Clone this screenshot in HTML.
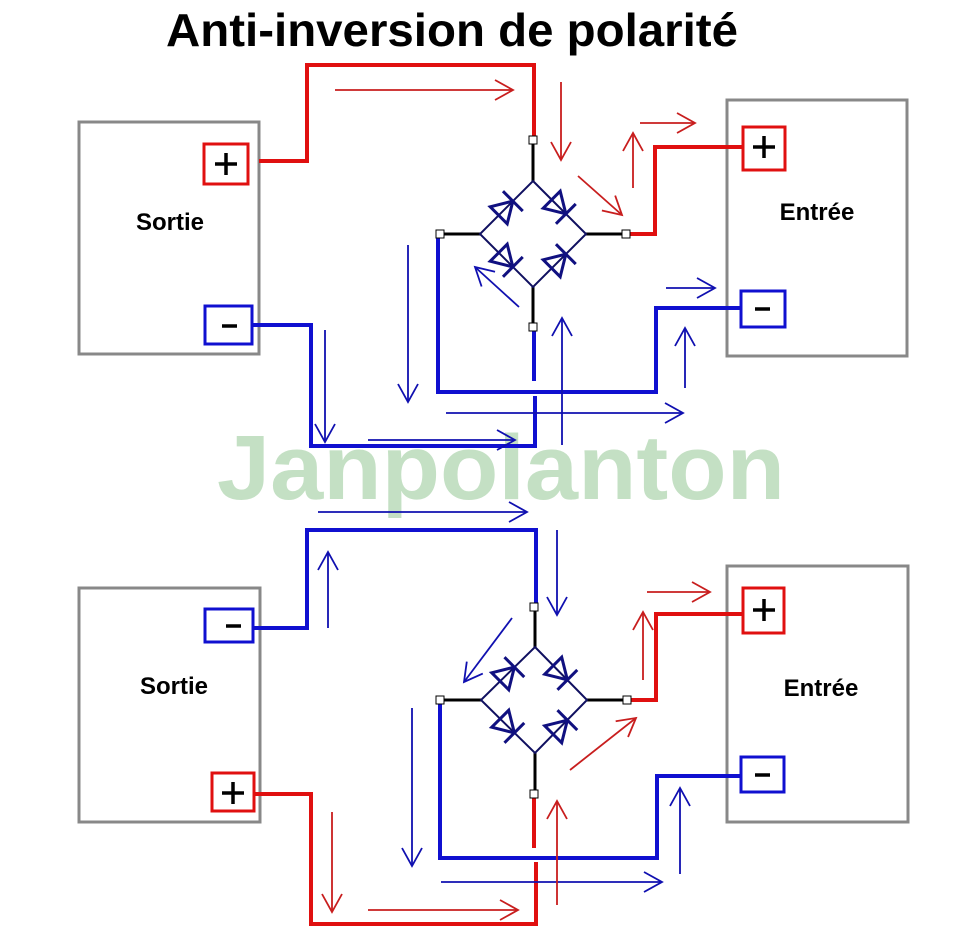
<!DOCTYPE html>
<html><head><meta charset="utf-8"><style>
html,body{margin:0;padding:0;background:#fff;}
svg{display:block;}
text{font-family:"Liberation Sans",Arial,sans-serif;font-weight:bold;}
</style></head><body>
<svg width="953" height="951" viewBox="0 0 953 951" xmlns="http://www.w3.org/2000/svg">
<defs>
<marker id="ar" markerUnits="userSpaceOnUse" markerWidth="28" markerHeight="28" refX="22" refY="14" orient="auto">
<path d="M4,4 L22,14 L4,24" fill="none" stroke="#c81e1e" stroke-width="1.8"/></marker>
<marker id="ab" markerUnits="userSpaceOnUse" markerWidth="28" markerHeight="28" refX="22" refY="14" orient="auto">
<path d="M4,4 L22,14 L4,24" fill="none" stroke="#1010b0" stroke-width="1.8"/></marker>
<g id="dio"><polygon points="-11,-12 -11,12 9,0" fill="none" stroke="#101080" stroke-width="3"/><line x1="9" y1="-14" x2="9" y2="14" stroke="#101080" stroke-width="3"/></g>
<g id="plus"><line x1="-11" y1="0" x2="11" y2="0" stroke="#000" stroke-width="3.5"/><line x1="0" y1="-11" x2="0" y2="11" stroke="#000" stroke-width="3.5"/></g>
</defs>

<text x="452" y="46" font-size="46" text-anchor="middle" textLength="572" lengthAdjust="spacingAndGlyphs">Anti-inversion de polarité</text>
<text x="501" y="499" font-size="92" text-anchor="middle" fill="#c4e0c4" textLength="568" lengthAdjust="spacingAndGlyphs">Janpolanton</text>

<!-- ===== TOP ===== -->
<rect x="79" y="122" width="180" height="232" fill="none" stroke="#888" stroke-width="3"/>
<rect x="727" y="100" width="180" height="256" fill="none" stroke="#888" stroke-width="3"/>
<text x="170" y="230" font-size="24" text-anchor="middle">Sortie</text>
<text x="817" y="220" font-size="24" text-anchor="middle">Entrée</text>

<polyline points="259,161 307,161 307,65 534,65 534,140" fill="none" stroke="#e01010" stroke-width="4"/>
<polyline points="626,234 655,234 655,147 743,147" fill="none" stroke="#e01010" stroke-width="4"/>
<polyline points="252,325 311,325 311,446 535,446 535,396" fill="none" stroke="#1010d0" stroke-width="4"/>
<line x1="534" y1="327" x2="534" y2="381" stroke="#1010d0" stroke-width="4"/>
<polyline points="438,234 438,392 656,392 656,308 741,308" fill="none" stroke="#1010d0" stroke-width="4"/>

<g stroke="#000" stroke-width="3"><line x1="533" y1="140" x2="533" y2="181"/><line x1="440" y1="234" x2="480" y2="234"/><line x1="586" y1="234" x2="626" y2="234"/><line x1="533" y1="287" x2="533" y2="327"/></g>
<polygon points="533,181 586,234 533,287 480,234" fill="none" stroke="#101060" stroke-width="2"/>
<use href="#dio" transform="translate(506.5,207.5) rotate(-45)"/>
<use href="#dio" transform="translate(559.5,207.5) rotate(45)"/>
<use href="#dio" transform="translate(506.5,260.5) rotate(45)"/>
<use href="#dio" transform="translate(559.5,260.5) rotate(-45)"/>
<g fill="#fff" stroke="#000" stroke-width="1"><rect x="529" y="136" width="8" height="8"/><rect x="436" y="230" width="8" height="8"/><rect x="622" y="230" width="8" height="8"/><rect x="529" y="323" width="8" height="8"/></g>

<rect x="204" y="144" width="44" height="40" fill="#fff" stroke="#e01010" stroke-width="3"/>
<use href="#plus" transform="translate(226,164)"/>
<rect x="205" y="306" width="47" height="38" fill="#fff" stroke="#1010d0" stroke-width="3"/>
<line x1="222" y1="326" x2="237" y2="326" stroke="#000" stroke-width="3.5"/>
<rect x="743" y="127" width="42" height="43" fill="#fff" stroke="#e01010" stroke-width="3"/>
<use href="#plus" transform="translate(764,147)"/>
<rect x="741" y="291" width="44" height="36" fill="#fff" stroke="#1010d0" stroke-width="3"/>
<line x1="755" y1="309" x2="770" y2="309" stroke="#000" stroke-width="3.5"/>

<g stroke="#c81e1e" stroke-width="1.8" fill="none" marker-end="url(#ar)">
<line x1="335" y1="90" x2="513" y2="90"/>
<line x1="561" y1="82" x2="561" y2="160"/>
<line x1="578" y1="176" x2="622" y2="215"/>
<line x1="633" y1="188" x2="633" y2="133"/>
<line x1="640" y1="123" x2="695" y2="123"/>
</g>
<g stroke="#1010b0" stroke-width="1.8" fill="none" marker-end="url(#ab)">
<line x1="519" y1="307" x2="475" y2="267"/>
<line x1="408" y1="245" x2="408" y2="402"/>
<line x1="325" y1="330" x2="325" y2="442"/>
<line x1="368" y1="440" x2="515" y2="440"/>
<line x1="446" y1="413" x2="683" y2="413"/>
<line x1="562" y1="445" x2="562" y2="318"/>
<line x1="666" y1="288" x2="715" y2="288"/>
<line x1="685" y1="388" x2="685" y2="328"/>
</g>

<!-- ===== BOTTOM ===== -->
<rect x="79" y="588" width="181" height="234" fill="none" stroke="#888" stroke-width="3"/>
<rect x="727" y="566" width="181" height="256" fill="none" stroke="#888" stroke-width="3"/>
<text x="174" y="694" font-size="24" text-anchor="middle">Sortie</text>
<text x="821" y="696" font-size="24" text-anchor="middle">Entrée</text>

<polyline points="253,628 307,628 307,530 536,530 536,607" fill="none" stroke="#1010d0" stroke-width="4"/>
<polyline points="627,700 656,700 656,614 743,614" fill="none" stroke="#e01010" stroke-width="4"/>
<polyline points="254,794 311,794 311,924 536,924 536,862" fill="none" stroke="#e01010" stroke-width="4"/>
<line x1="534" y1="794" x2="534" y2="848" stroke="#e01010" stroke-width="4"/>
<polyline points="440,700 440,858 657,858 657,776 741,776" fill="none" stroke="#1010d0" stroke-width="4"/>

<g stroke="#000" stroke-width="3"><line x1="535" y1="607" x2="535" y2="647"/><line x1="440" y1="700" x2="481" y2="700"/><line x1="587" y1="700" x2="627" y2="700"/><line x1="535" y1="753" x2="535" y2="794"/></g>
<polygon points="535,647 587,700 535,753 481,700" fill="none" stroke="#101060" stroke-width="2"/>
<use href="#dio" transform="translate(508,673.5) rotate(-45)"/>
<use href="#dio" transform="translate(561,673.5) rotate(45)"/>
<use href="#dio" transform="translate(508,726.5) rotate(45)"/>
<use href="#dio" transform="translate(561,726.5) rotate(-45)"/>
<g fill="#fff" stroke="#000" stroke-width="1"><rect x="530" y="603" width="8" height="8"/><rect x="436" y="696" width="8" height="8"/><rect x="623" y="696" width="8" height="8"/><rect x="530" y="790" width="8" height="8"/></g>

<rect x="205" y="609" width="48" height="33" fill="#fff" stroke="#1010d0" stroke-width="3"/>
<line x1="226" y1="626" x2="241" y2="626" stroke="#000" stroke-width="3.5"/>
<rect x="212" y="773" width="42" height="38" fill="#fff" stroke="#e01010" stroke-width="3"/>
<use href="#plus" transform="translate(233,793)"/>
<rect x="743" y="588" width="41" height="45" fill="#fff" stroke="#e01010" stroke-width="3"/>
<use href="#plus" transform="translate(764,610)"/>
<rect x="741" y="757" width="43" height="35" fill="#fff" stroke="#1010d0" stroke-width="3"/>
<line x1="755" y1="775" x2="770" y2="775" stroke="#000" stroke-width="3.5"/>

<g stroke="#1010b0" stroke-width="1.8" fill="none" marker-end="url(#ab)">
<line x1="318" y1="512" x2="527" y2="512"/>
<line x1="557" y1="530" x2="557" y2="615"/>
<line x1="512" y1="618" x2="464" y2="682"/>
<line x1="328" y1="628" x2="328" y2="552"/>
<line x1="412" y1="708" x2="412" y2="866"/>
<line x1="441" y1="882" x2="662" y2="882"/>
<line x1="680" y1="874" x2="680" y2="788"/>
</g>
<g stroke="#c81e1e" stroke-width="1.8" fill="none" marker-end="url(#ar)">
<line x1="332" y1="812" x2="332" y2="912"/>
<line x1="368" y1="910" x2="518" y2="910"/>
<line x1="557" y1="905" x2="557" y2="801"/>
<line x1="570" y1="770" x2="636" y2="718"/>
<line x1="643" y1="680" x2="643" y2="612"/>
<line x1="647" y1="592" x2="710" y2="592"/>
</g>
</svg>
</body></html>
